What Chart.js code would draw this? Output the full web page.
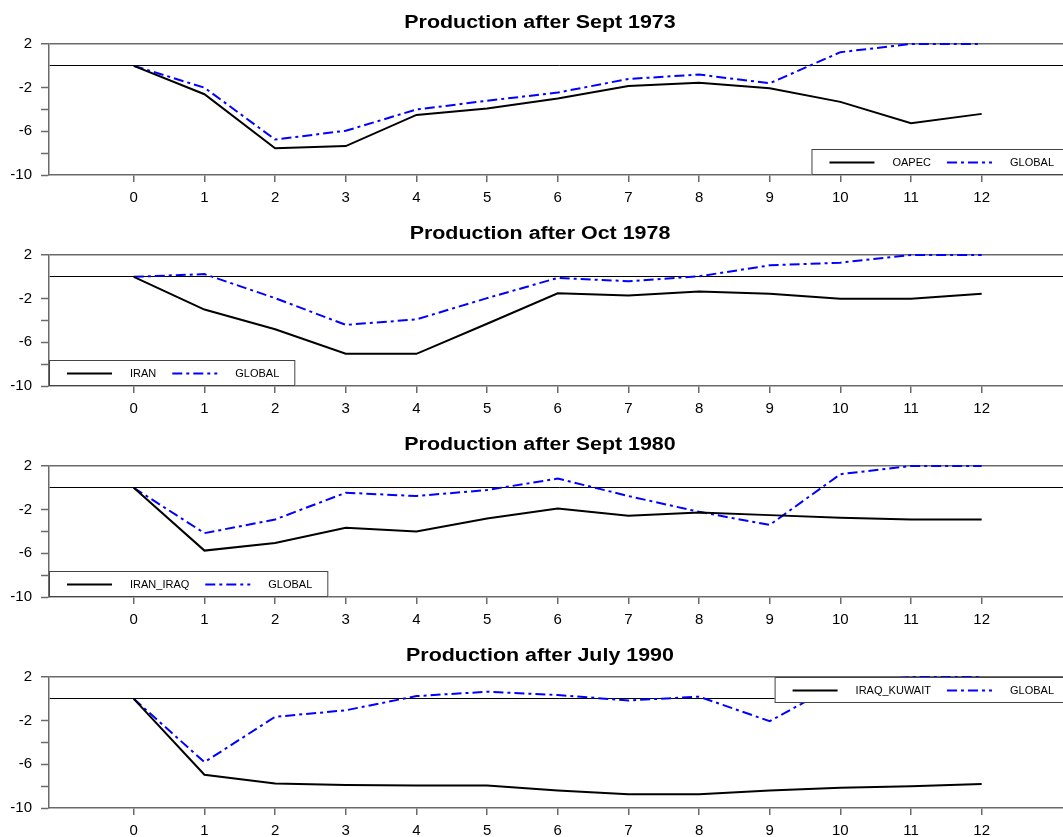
<!DOCTYPE html>
<html>
<head>
<meta charset="utf-8">
<script src="https://cdn.jsdelivr.net/npm/chart.js@4.4.1/dist/chart.umd.min.js"></script>
<style>
html,body{margin:0;background:#fff;overflow:hidden}
#wrap{position:relative;width:1063px;height:837px;overflow:hidden;background:#fff}
.panel{position:absolute;left:0;width:1080px;height:211px}
</style>
</head>
<body>
<div id="wrap">
<div class="panel" style="top:0px"><canvas id="p0"></canvas></div>
<div class="panel" style="top:211px"><canvas id="p1"></canvas></div>
<div class="panel" style="top:422px"><canvas id="p2"></canvas></div>
<div class="panel" style="top:633px"><canvas id="p3"></canvas></div>
</div>
<script>
// months after the shock
const months = [0,1,2,3,4,5,6,7,8,9,10,11,12]
const yTicks = [2,0,-2,-4,-6,-8,-10]
const yLabels = [2,-2,-6,-10]

const oapec      = [0,-2.6,-7.55,-7.35,-4.5,-3.9,-3.0,-1.85,-1.55,-2.05,-3.3,-5.25,-4.4]
const global1973 = [0,-2.0,-6.75,-5.95,-4.0,-3.2,-2.45,-1.2,-0.8,-1.6,1.25,2.0,2.0]

const iran       = [0,-3.0,-4.8,-7.05,-7.05,-4.3,-1.5,-1.7,-1.35,-1.55,-2.0,-2.0,-1.55]
const global1978 = [0,0.25,-1.95,-4.4,-3.9,-1.95,-0.1,-0.4,0.05,1.05,1.3,2.0,2.0]

const iranIraq   = [0,-5.75,-5.05,-3.65,-4.0,-2.8,-1.9,-2.55,-2.25,-2.5,-2.75,-2.9,-2.9]
const global1980 = [0,-4.15,-2.9,-0.45,-0.75,-0.2,0.85,-0.75,-2.2,-3.4,1.25,2.0,2.0]

const iraqKuwait = [0,-6.95,-7.75,-7.9,-7.95,-7.95,-8.4,-8.75,-8.75,-8.4,-8.15,-8.0,-7.8]
const global1990 = [0,-5.8,-1.65,-1.05,0.25,0.65,0.35,-0.15,0.2,-2.05,1.5,2.0,2.0]

const FONT = '"Liberation Sans", Arial, sans-serif'
const AXIS = '#6a6a6a'

// title drawn a bit wider than the regular bold face
const wideTitle = {
  id:'wideTitle',
  afterDraw(chart,args,opts){
    const ctx = chart.ctx
    ctx.save()
    ctx.font = 'bold 18px ' + FONT
    ctx.fillStyle = '#000'
    ctx.textAlign = 'center'
    ctx.textBaseline = 'alphabetic'
    ctx.translate(chart.width/2, 28)
    ctx.scale(1.19,1)
    ctx.fillText(opts.text,0,0)
    ctx.restore()
  }
}

// boxed legend sitting in a corner of the plot area
const boxLegend = {
  id:'boxLegend',
  afterDatasetsDraw(chart,args,opts){
    const ctx = chart.ctx, a = chart.chartArea
    const sets = chart.data.datasets
    ctx.save()
    ctx.font = '11px ' + FONT
    let w = 18
    sets.forEach(d=>{ w += 45 + 18 + ctx.measureText(d.label).width + 16 })
    const h = 26
    const x = opts.corner.indexOf('right')>=0 ? a.right - w : a.left
    const y = opts.corner.indexOf('bottom')>=0 ? a.bottom - h : a.top
    ctx.fillStyle = '#fff'
    ctx.fillRect(x,y,w,h)
    ctx.strokeStyle = '#444'
    ctx.lineWidth = 1
    ctx.strokeRect(x+0.5,y+0.5,w-1,h-1)
    let cx = x + 18
    const cy = y + 13.5
    sets.forEach(d=>{
      ctx.beginPath()
      ctx.setLineDash(d.borderDash || [])
      ctx.strokeStyle = d.borderColor
      ctx.lineWidth = d.borderWidth
      ctx.moveTo(cx,cy)
      ctx.lineTo(cx+45,cy)
      ctx.stroke()
      ctx.setLineDash([])
      cx += 45 + 18
      ctx.fillStyle = '#000'
      ctx.textBaseline = 'middle'
      ctx.fillText(d.label,cx,cy)
      cx += ctx.measureText(d.label).width + 16
    })
    ctx.restore()
  }
}

function makePanel(id,title,name,local,global,corner){
  new Chart(document.getElementById(id),{
    type:'line',
    data:{
      labels:months,
      datasets:[
        {label:name,data:local,borderColor:'#000',borderWidth:2,pointRadius:0,tension:0,clip:false},
        {label:'GLOBAL',data:global,borderColor:'#0000ff',borderWidth:2,borderDash:[10,4,3,4],pointRadius:0,tension:0,clip:false}
      ]
    },
    options:{
      responsive:true,
      maintainAspectRatio:false,
      animation:false,
      events:[],
      layout:{padding:{top:44,right:10,left:0,bottom:0}},
      plugins:{
        legend:{display:false},
        tooltip:{enabled:false},
        wideTitle:{text:title},
        boxLegend:{corner:corner}
      },
      scales:{
        x:{
          type:'linear',
          min:-1.2,
          max:13.25,
          afterFit:s=>{ s.height = 36 },
          afterBuildTicks:s=>{ s.ticks = months.map(v=>({value:v})) },
          border:{display:true,color:AXIS,width:1.5},
          grid:{drawOnChartArea:false,drawTicks:true,tickLength:7,color:AXIS,lineWidth:1.5},
          ticks:{autoSkip:false,maxRotation:0,padding:7,color:'#000',font:{family:FONT,size:15}}
        },
        y:{
          min:-10,
          max:2,
          afterFit:s=>{ s.width = 49 },
          afterBuildTicks:s=>{ s.ticks = yTicks.map(v=>({value:v})) },
          border:{display:true,color:AXIS,width:1.5},
          grid:{
            drawOnChartArea:true,
            drawTicks:true,
            tickLength:8,
            lineWidth:c=> c.tick && c.tick.value===2 ? 1.5 : 1,
            color:c=> !c.tick ? 'transparent' : c.tick.value===2 ? AXIS : c.tick.value===0 ? '#000' : 'transparent',
            tickColor:c=> c.tick && c.tick.value===0 ? 'transparent' : AXIS,
            tickWidth:1.5
          },
          ticks:{
            autoSkip:false,
            padding:9,
            color:'#000',
            font:{family:FONT,size:15},
            callback:v=> yLabels.indexOf(v)>=0 ? String(v) : ''
          }
        }
      }
    },
    plugins:[wideTitle,boxLegend]
  })
}

makePanel('p0','Production after Sept 1973','OAPEC',oapec,global1973,'bottom-right')
makePanel('p1','Production after Oct 1978','IRAN',iran,global1978,'bottom-left')
makePanel('p2','Production after Sept 1980','IRAN_IRAQ',iranIraq,global1980,'bottom-left')
makePanel('p3','Production after July 1990','IRAQ_KUWAIT',iraqKuwait,global1990,'top-right')
</script>
</body>
</html>
